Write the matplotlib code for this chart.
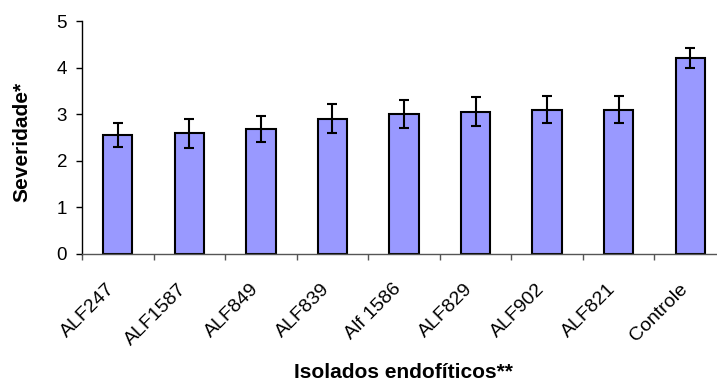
import matplotlib
matplotlib.use("Agg")
import matplotlib.pyplot as plt
import numpy as np

categories = ["ALF247", "ALF1587", "ALF849", "ALF839", "Alf 1586",
              "ALF829", "ALF902", "ALF821", "Controle"]
severity = [2.55, 2.59, 2.69, 2.90, 3.00, 3.05, 3.10, 3.10, 4.20]
errors = [0.26, 0.31, 0.28, 0.31, 0.30, 0.31, 0.29, 0.28, 0.21]
yticks = [0, 1, 2, 3, 4, 5]

plt.rcParams['font.family'] = ['Liberation Sans', 'DejaVu Sans']

W, H = 717, 385
fig = plt.figure(figsize=(W / 100, H / 100), dpi=100)
left, right, bottom, top = 82, 726, 254, 21
ax = fig.add_axes([left / W, 1 - bottom / H, (right - left) / W, (bottom - top) / H])

x = np.arange(len(categories))
ax.bar(x, severity, width=0.41, color="#9999FF", edgecolor="black", linewidth=1.5,
       yerr=errors, error_kw=dict(ecolor="black", elinewidth=1.5, capsize=3.7, capthick=1.5),
       zorder=2)

ax.set_xlim(-0.5, len(categories) - 0.5)
ax.set_ylim(0, 5)
ax.set_yticks(yticks)
ax.set_yticklabels([str(v) for v in yticks], fontsize=13.5)

ax.set_xticks(np.arange(len(categories) + 1) - 0.5)
ax.set_xticklabels([])
ax.tick_params(axis='x', direction='out', length=4.3, width=1, color='#555555')
ax.tick_params(axis='y', direction='out', length=4.3, width=1, pad=6.5)

for i, c in enumerate(categories):
    ax.annotate(c, xy=(i, 0), xycoords='data', xytext=(-8, -19), textcoords='offset points',
                rotation=45, ha='right', va='top', rotation_mode='anchor', fontsize=14)

for s in ['top', 'right']:
    ax.spines[s].set_visible(False)
ax.spines['left'].set_linewidth(1)
ax.spines['bottom'].set_color('#555555')
ax.spines['bottom'].set_linewidth(1)

fig.text(22 / W, 1 - 142 / H, "Severidade*", rotation=90, ha='center', va='center',
         fontsize=15, fontweight='bold')
fig.text(403 / W, 1 - 373 / H, "Isolados endofíticos**", ha='center', va='center',
         fontsize=15, fontweight='bold')

fig.savefig("out.png", dpi=100)
